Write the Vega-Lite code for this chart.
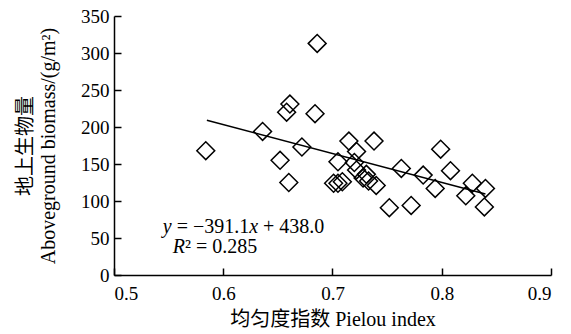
{
  "$schema": "https://vega.github.io/schema/vega-lite/v6.json",
  "autosize": {"type": "none"},
  "width": 437,
  "height": 259,
  "padding": {"left": 114, "top": 16, "right": 20, "bottom": 59},
  "background": "white",
  "config": {
    "view": {"stroke": null},
    "axis": {
      "grid": false,
      "domainColor": "black",
      "domainWidth": 1.5,
      "tickColor": "black",
      "tickWidth": 1.5,
      "tickSize": -7,
      "labelFont": "Liberation Serif, Times New Roman, serif",
      "labelFontSize": 19,
      "labelColor": "black",
      "titleFont": "Liberation Serif, Noto Sans CJK SC",
      "titleFontSize": 20,
      "titleFontWeight": "normal",
      "titleColor": "black"
    }
  },
  "datasets": {
    "pts": [
      {"x": 0.584, "y": 168},
      {"x": 0.686, "y": 313},
      {"x": 0.661, "y": 231},
      {"x": 0.658, "y": 220},
      {"x": 0.684, "y": 218},
      {"x": 0.636, "y": 194},
      {"x": 0.672, "y": 173},
      {"x": 0.652, "y": 155},
      {"x": 0.660, "y": 125},
      {"x": 0.715, "y": 181},
      {"x": 0.738, "y": 181},
      {"x": 0.722, "y": 167},
      {"x": 0.705, "y": 153},
      {"x": 0.720, "y": 152},
      {"x": 0.722, "y": 142},
      {"x": 0.731, "y": 136},
      {"x": 0.728, "y": 131},
      {"x": 0.733, "y": 127},
      {"x": 0.740, "y": 121},
      {"x": 0.701, "y": 124},
      {"x": 0.705, "y": 124},
      {"x": 0.709, "y": 126},
      {"x": 0.763, "y": 144},
      {"x": 0.752, "y": 91},
      {"x": 0.772, "y": 94},
      {"x": 0.783, "y": 135},
      {"x": 0.794, "y": 117},
      {"x": 0.799, "y": 170},
      {"x": 0.808, "y": 141},
      {"x": 0.828, "y": 124},
      {"x": 0.822, "y": 107},
      {"x": 0.840, "y": 117},
      {"x": 0.839, "y": 92}
    ],
    "fit": [
      {"x": 0.585, "y": 209.2},
      {"x": 0.840, "y": 109.5}
    ],
    "italic": [
      {"x": 0.5447, "y": 56.8, "t": "y"},
      {"x": 0.6237, "y": 56.8, "t": "x"},
      {"x": 0.5538, "y": 29.3, "t": "R"}
    ],
    "plain": [
      {"x": 0.5574, "y": 56.8, "t": "= −391.1"},
      {"x": 0.6364, "y": 56.8, "t": "+ 438.0"},
      {"x": 0.5649, "y": 29.3, "t": "² = 0.285"}
    ]
  },
  "encoding": {
    "x": {
      "field": "x", "type": "quantitative",
      "scale": {"domain": [0.5, 0.9], "nice": false, "zero": false},
      "axis": {"values": [0.5, 0.6, 0.7, 0.8, 0.9], "format": ".1f", "labelFont": "Liberation Serif, serif", "labelPadding": 16, "title": "均匀度指数 Pielou index", "titlePadding": 6}
    },
    "y": {
      "field": "y", "type": "quantitative",
      "scale": {"domain": [0, 350], "nice": false},
      "axis": {"values": [0, 50, 100, 150, 200, 250, 300, 350], "labelFont": "Liberation Serif, serif", "labelPadding": 12, "title": ["地上生物量", "Aboveground biomass/(g/m²)"], "titlePadding": 22, "titleLineHeight": 23}
    }
  },
  "layer": [
    {
      "data": {"name": "pts"},
      "mark": {"type": "point", "shape": "diamond", "size": 320, "filled": false, "stroke": "black", "strokeWidth": 1.5, "opacity": 1}
    },
    {
      "data": {"name": "fit"},
      "mark": {"type": "line", "color": "black", "strokeWidth": 1.5}
    },
    {
      "data": {"name": "italic"},
      "mark": {"type": "text", "font": "Liberation Serif", "fontSize": 20, "fontStyle": "italic", "align": "left", "baseline": "alphabetic", "color": "black"},
      "encoding": {"text": {"field": "t"}}
    },
    {
      "data": {"name": "plain"},
      "mark": {"type": "text", "font": "Liberation Serif", "fontSize": 20, "align": "left", "baseline": "alphabetic", "color": "black"},
      "encoding": {"text": {"field": "t"}}
    }
  ]
}
